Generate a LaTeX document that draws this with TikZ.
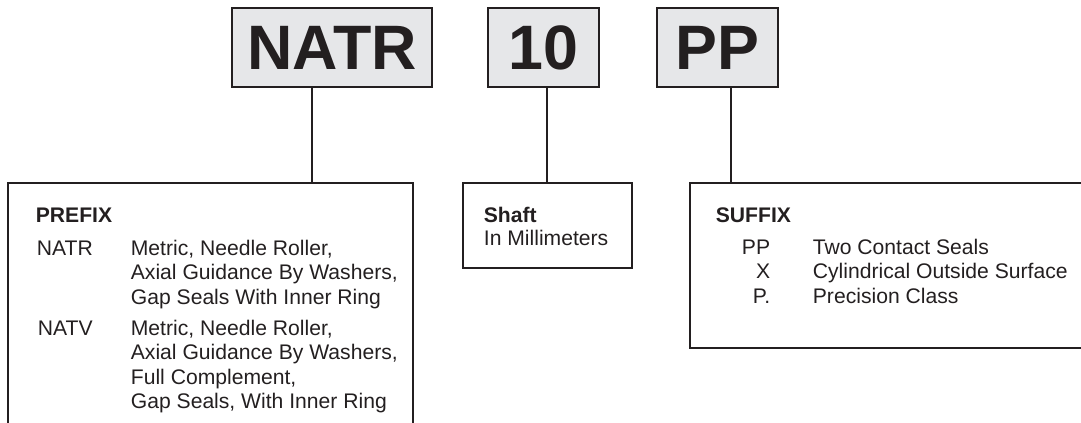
\documentclass[tikz,border=0pt]{standalone}
\usepackage{fontspec}
\setmainfont{Liberation Sans}
\usetikzlibrary{positioning}
\definecolor{boxgray}{HTML}{E6E7E9}
\definecolor{ink}{HTML}{231F20}

\begin{document}
\begin{tikzpicture}[x=1bp, y=-1bp, line width=1.8bp, draw=ink, text=ink,
  code/.style={draw, fill=boxgray, minimum height=79bp, inner sep=0pt, font=\fontsize{63}{63}\selectfont\bfseries},
  txt/.style={anchor=base west, inner sep=0pt, font=\fontsize{21.2}{24}\selectfont},
  head/.style={txt, font=\fontsize{21.2}{24}\selectfont\bfseries}]
  \useasboundingbox (0,0) rectangle (1081,422);

  % designation boxes
  \node[code, minimum width=200bp] (natr) at (332,47.5) {NATR};
  \node[code, minimum width=111bp] (ten) at (543.5,47.5) {10};
  \node[code, minimum width=121bp] (pp) at (717.5,47.5) {PP};

  % where the stems meet the boxes below
  \coordinate (prefixtop) at (312,183);
  \coordinate (shafttop) at (547,183);
  \coordinate (suffixtop) at (731,183);
  \draw (natr.south -| prefixtop) -- (prefixtop);
  \draw (ten.south -| shafttop) -- (shafttop);
  \draw (pp.south -| suffixtop) -- (suffixtop);

  % prefix box, open at the bottom
  \draw (8,430) -- (8,183) -- (413,183) -- (413,430);
  \node[head] (prefix) at (35,222) {PREFIX};
  \node[txt] (natrcode) at (36,255) {NATR};
  \node[txt] (natvcode) at (37,335) {NATV};
  \foreach \y/\t [count=\i] in {255/{Metric, Needle Roller,}, 279.5/{Axial Guidance By Washers,}, 304/{Gap Seals With Inner Ring},
      335/{Metric, Needle Roller,}, 359.5/{Axial Guidance By Washers,}, 384/{Full Complement,}, 408.5/{Gap Seals, With Inner Ring}}
    \node[txt] (pre\i) at (130,\y) {\t};

  % shaft box
  \node[draw, minimum width=169bp, minimum height=85bp, inner sep=0pt] (shaft) at (547.5,225.5) {};
  \node[head] (shafthead) at (483,222) {Shaft};
  \node[txt] (shaftunit) at (483,245) {In Millimeters};

  % suffix box, open at the right
  \draw (1090,183) -- (690,183) -- (690,348) -- (1090,348);
  \node[head] (suffix) at (715,222) {SUFFIX};
  \foreach \y/\c/\t [count=\i] in {254/PP/{Two Contact Seals}, 278.5/X/{Cylindrical Outside Surface}, 303/P./{Precision Class}} {
    \node[txt, anchor=base east] (suf\i) at (771,\y) {\c};
    \node[txt] (sufdesc\i) at (812,\y) {\t};
  }
\end{tikzpicture}
\end{document}
